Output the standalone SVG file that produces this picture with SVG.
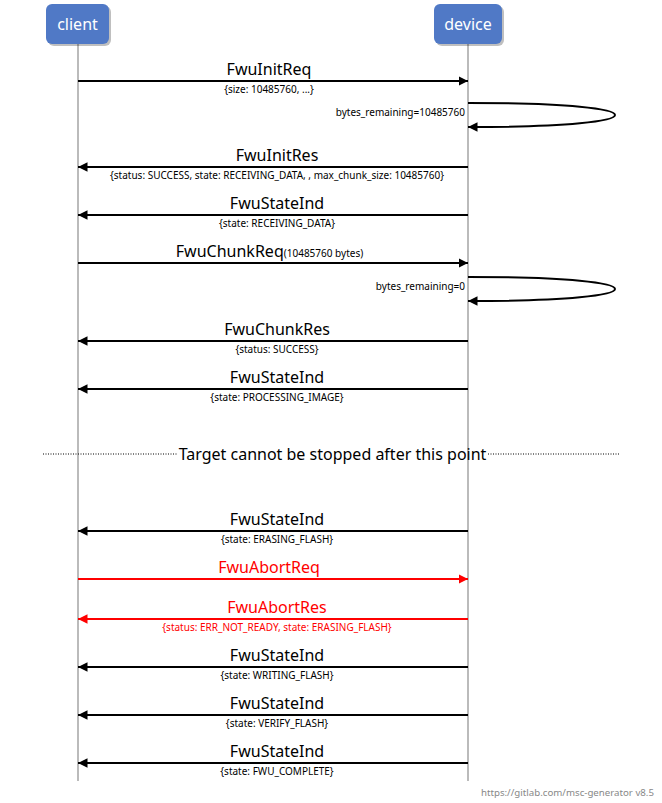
<svg xmlns="http://www.w3.org/2000/svg" width="662" height="803" viewBox="0 0 662 803">
<style>
text{font-family:"Noto Sans","Open Sans","DejaVu Sans",sans-serif;}
.ent{fill:#5079c6;}
.shd{fill:#000;opacity:.25;}
.entt{fill:#fff;font-size:16px;text-anchor:middle;}
.life{stroke:#bbb;stroke-width:2;fill:none;}
.arr{stroke:#000;stroke-width:2;fill:none;}
.red{stroke:#f00;}
.lbl{font-size:16px;text-anchor:middle;fill:#000;}
.sub{font-size:10px;text-anchor:middle;fill:#000;}
.self{font-size:10px;text-anchor:end;fill:#000;}
.rt{fill:#f00;}
.div{stroke:#000;stroke-width:1;stroke-dasharray:1,1.5;}
.foot{font-size:9.7px;fill:#888;text-anchor:end;}
</style>
<defs>
<marker id="ah" viewBox="0 0 10 10" refX="10" refY="5" markerWidth="9.5" markerHeight="10" markerUnits="userSpaceOnUse" orient="auto"><path d="M0,0 L10,5 L0,10 z" fill="#000"/></marker>
<marker id="ahr" viewBox="0 0 10 10" refX="10" refY="5" markerWidth="9.5" markerHeight="10" markerUnits="userSpaceOnUse" orient="auto"><path d="M0,0 L10,5 L0,10 z" fill="#f00"/></marker>
</defs>
<rect width="662" height="803" fill="#fff"/>
<g id="lifelines">
<line class="life" x1="78" y1="44" x2="78" y2="781"/>
<line class="life" x1="468" y1="44" x2="468" y2="781"/>
</g>
<g id="client">
<rect class="shd" x="48" y="6" width="63" height="40" rx="6"/>
<rect class="ent" x="46" y="4" width="63" height="40" rx="6"/>
<text class="entt" x="77.5" y="30">client</text>
</g>
<g id="device">
<rect class="shd" x="436" y="6" width="68" height="40" rx="6"/>
<rect class="ent" x="434" y="4" width="68" height="40" rx="6"/>
<text class="entt" x="468" y="30">device</text>
</g>
<g id="connectors">
<line class="arr" x1="78" y1="81" x2="468" y2="81" marker-end="url(#ah)"/>
<path class="arr" d="M468,103 C570,103 615,109 615,115 C615,121 570,127 468,127" marker-end="url(#ah)"/>
<line class="arr" x1="468" y1="167" x2="78" y2="167" marker-end="url(#ah)"/>
<line class="arr" x1="468" y1="215" x2="78" y2="215" marker-end="url(#ah)"/>
<line class="arr" x1="78" y1="263" x2="468" y2="263" marker-end="url(#ah)"/>
<path class="arr" d="M468,277 C570,277 615,283 615,289 C615,295 570,301 468,301" marker-end="url(#ah)"/>
<line class="arr" x1="468" y1="341" x2="78" y2="341" marker-end="url(#ah)"/>
<line class="arr" x1="468" y1="389" x2="78" y2="389" marker-end="url(#ah)"/>
<line class="div" x1="43" y1="454" x2="177" y2="454"/>
<line class="div" x1="488" y1="454" x2="619" y2="454"/>
<line class="arr" x1="468" y1="531" x2="78" y2="531" marker-end="url(#ah)"/>
<line class="arr red" x1="78" y1="579" x2="468" y2="579" marker-end="url(#ahr)"/>
<line class="arr red" x1="468" y1="619" x2="78" y2="619" marker-end="url(#ahr)"/>
<line class="arr" x1="468" y1="667" x2="78" y2="667" marker-end="url(#ah)"/>
<line class="arr" x1="468" y1="715" x2="78" y2="715" marker-end="url(#ah)"/>
<line class="arr" x1="468" y1="763" x2="78" y2="763" marker-end="url(#ah)"/>
</g>
<g id="labels">
<text class="lbl" x="269" y="74.5">FwuInitReq</text>
<text class="sub" x="269" y="92.5">{size: 10485760, ...}</text>
<text class="self" x="465" y="116">bytes_remaining=10485760</text>
<text class="lbl" x="277" y="160.5">FwuInitRes</text>
<text class="sub" x="277" y="179">{status: SUCCESS, state: RECEIVING_DATA, , max_chunk_size: 10485760}</text>
<text class="lbl" x="277" y="208.5">FwuStateInd</text>
<text class="sub" x="277" y="227">{state: RECEIVING_DATA}</text>
<text class="lbl" x="269.5" y="256.5">FwuChunkReq<tspan font-size="10px">(10485760 bytes)</tspan></text>
<text class="self" x="465" y="290">bytes_remaining=0</text>
<text class="lbl" x="277" y="334.5">FwuChunkRes</text>
<text class="sub" x="277" y="353">{status: SUCCESS}</text>
<text class="lbl" x="277" y="382.5">FwuStateInd</text>
<text class="sub" x="277" y="401">{state: PROCESSING_IMAGE}</text>
<text class="lbl" x="332.5" y="460">Target cannot be stopped after this point</text>
<text class="lbl" x="277" y="524.5">FwuStateInd</text>
<text class="sub" x="277" y="543">{state: ERASING_FLASH}</text>
<text class="lbl rt" x="269" y="572.5">FwuAbortReq</text>
<text class="lbl rt" x="277" y="612.5">FwuAbortRes</text>
<text class="sub rt" x="277" y="631">{status: ERR_NOT_READY, state: ERASING_FLASH}</text>
<text class="lbl" x="277" y="660.5">FwuStateInd</text>
<text class="sub" x="277" y="679">{state: WRITING_FLASH}</text>
<text class="lbl" x="277" y="708.5">FwuStateInd</text>
<text class="sub" x="277" y="727">{state: VERIFY_FLASH}</text>
<text class="lbl" x="277" y="756.5">FwuStateInd</text>
<text class="sub" x="277" y="775">{state: FWU_COMPLETE}</text>
<text class="foot" x="654" y="796">https://gitlab.com/msc-generator v8.5</text>
</g>
</svg>
